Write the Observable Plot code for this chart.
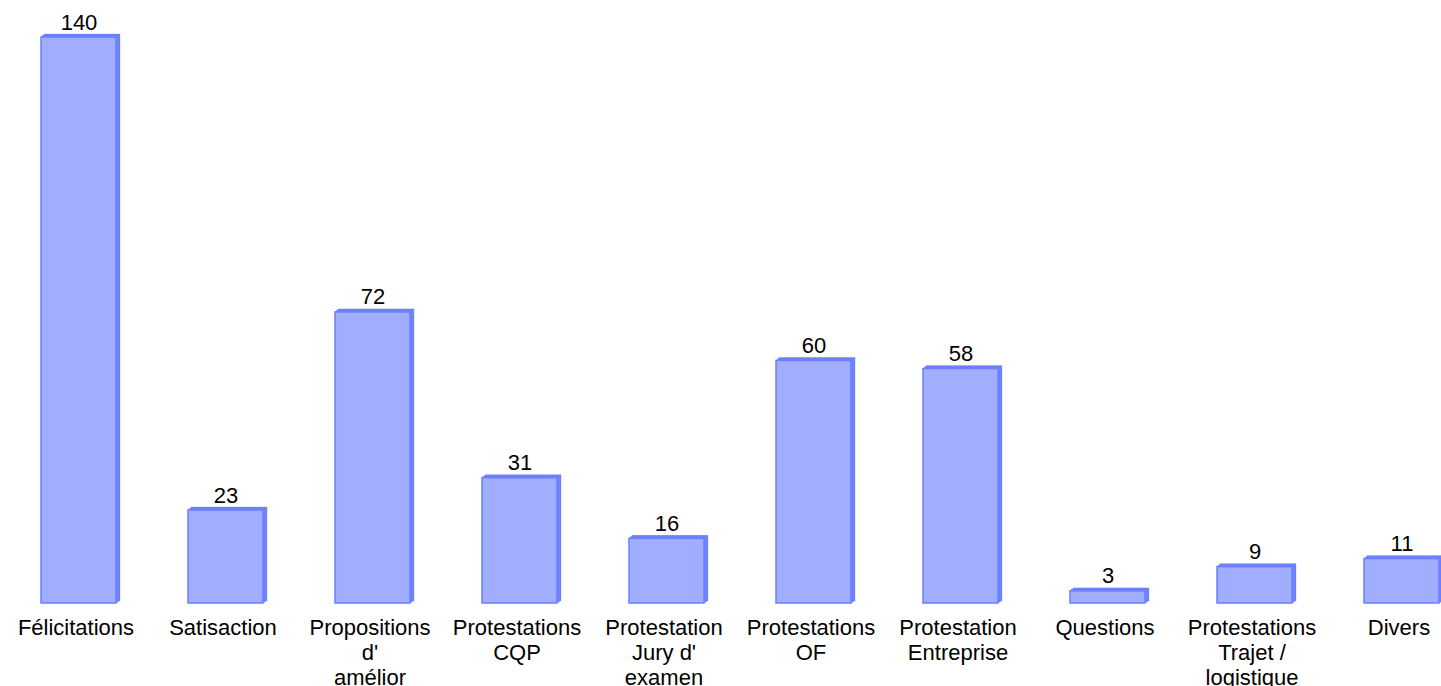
<!DOCTYPE html>
<html>
<head>
<meta charset="utf-8">
<script src="https://cdn.jsdelivr.net/npm/d3@7"></script>
<script src="https://cdn.jsdelivr.net/npm/@observablehq/plot@0.6"></script>
<style>
  html, body { margin: 0; padding: 0; background: #fff; overflow: hidden; }
  #chart svg { display: block; overflow: visible; }
</style>
</head>
<body>
<div id="chart"></div>
<script>
const categories = [
  "Félicitations",
  "Satisaction",
  "Propositions\nd'\namélior",
  "Protestations\nCQP",
  "Protestation\nJury d'\nexamen",
  "Protestations\nOF",
  "Protestation\nEntreprise",
  "Questions",
  "Protestations\nTrajet /\nlogistique",
  "Divers"
];
const values = [140, 23, 72, 31, 16, 60, 58, 3, 9, 11];

const data = categories.map((c, i) => ({category: c, value: values[i]}));

const sideColor = "#7d8fff";
const frontColor = "#a1adfe";
const edgeColor = "#6a7fff";

const chart = Plot.plot({
  width: 1441,
  height: 686,
  marginTop: 37,
  marginBottom: 83,
  marginLeft: 0,
  marginRight: 0,
  style: {fontFamily: "'Liberation Sans', Arial, sans-serif", fontSize: "22px", background: "#fff", color: "#000"},
  x: {domain: categories, range: [2, 1477], paddingInner: 0.49, paddingOuter: 0.245, label: null},
  y: {domain: [0, 140], label: null, axis: null},
  marks: [
    Plot.barY(data, {x: "category", y: "value", dx: 3.5, dy: -2.5, fill: sideColor, stroke: edgeColor, strokeWidth: 1.3}),
    Plot.barY(data, {x: "category", y: "value", dx: 1.75, dy: -1.25, fill: sideColor, stroke: edgeColor, strokeWidth: 1.3}),
    Plot.barY(data, {x: "category", y: "value", fill: frontColor, stroke: edgeColor, strokeWidth: 1.5}),
    Plot.text(data, {x: "category", y: "value", text: d => String(d.value), dy: -8, lineAnchor: "bottom", fontSize: 22, fill: "#000"}),
    Plot.axisX({tickSize: 0, tickPadding: 14, fontSize: 22, lineHeight: 25 / 22, label: null, fill: "#000", dx: -3})
  ]
});
document.getElementById("chart").appendChild(chart);
</script>
</body>
</html>
